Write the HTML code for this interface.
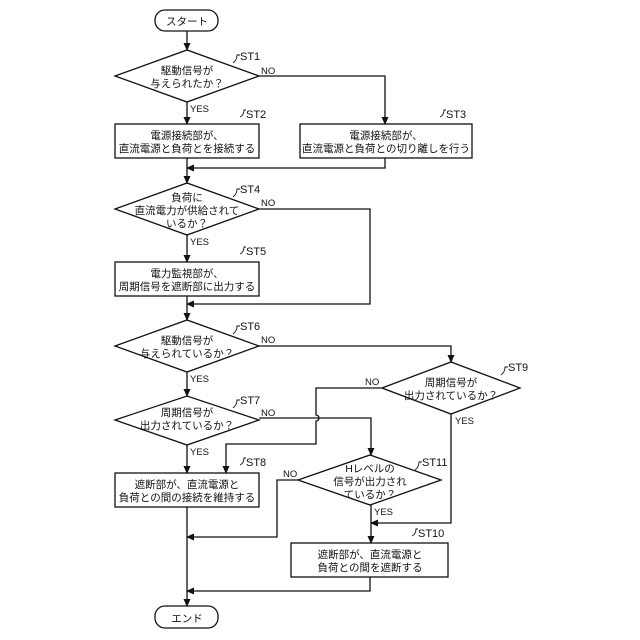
<!DOCTYPE html>
<html><head><meta charset="utf-8"><style>body{margin:0;background:#fff}svg{display:block}text{font-family:"Liberation Sans","Noto Sans CJK JP",sans-serif;fill:#111}</style></head><body>
<svg width="640" height="640" viewBox="0 0 640 640" xmlns="http://www.w3.org/2000/svg">
<defs><marker id="a" markerWidth="8" markerHeight="8" refX="7" refY="4" orient="auto" markerUnits="userSpaceOnUse"><path d="M0,0.5 L8,4 L0,7.5z" fill="#111"/></marker></defs>
<g fill="none" stroke="#111" stroke-width="1.3">
<rect x="155" y="10" width="63" height="21" rx="10"/>
<rect x="155" y="606" width="63" height="22" rx="10"/>
<polygon points="115,76 187,50 259,76 187,102"/>
<polygon points="115,209 187,183 259,209 187,235"/>
<polygon points="115,346 187,320 259,346 187,372"/>
<polygon points="115,420 187,396 259,420 187,445"/>
<polygon points="382,388 451,362 520,388 451,414"/>
<polygon points="298,480 370,455 441,480 370,505"/>
<rect x="115" y="124" width="144" height="34"/>
<rect x="300" y="124" width="172" height="34"/>
<rect x="115" y="262" width="144" height="34"/>
<rect x="115" y="473" width="144" height="34"/>
<rect x="291" y="543" width="157" height="34"/>
<!-- main vertical -->
<path d="M187,31V50" marker-end="url(#a)"/>
<path d="M187,102V124" marker-end="url(#a)"/>
<path d="M187,158V183" marker-end="url(#a)"/>
<path d="M187,235V262" marker-end="url(#a)"/>
<path d="M187,296V320" marker-end="url(#a)"/>
<path d="M187,372V396" marker-end="url(#a)"/>
<path d="M187,445V473" marker-end="url(#a)"/>
<path d="M187,507V606" marker-end="url(#a)"/>
<path d="M259,76H385V124" marker-end="url(#a)"/>
<path d="M385,158V168H187" marker-end="url(#a)"/>
<path d="M259,209H370V304H187" marker-end="url(#a)"/>
<path d="M259,346H451V362" marker-end="url(#a)"/>
<path d="M382,388H316V415 a3,3 0 0 1 0,6 V444H226V473" marker-end="url(#a)"/>
<path d="M259,418H371V455" marker-end="url(#a)"/>
<path d="M451,414V523H371" marker-end="url(#a)"/>
<path d="M371,505V543" marker-end="url(#a)"/>
<path d="M298,480H277V537H187" marker-end="url(#a)"/>
<path d="M370,577V591H187" marker-end="url(#a)"/>
<g stroke-width="0.9">
<path d="M233,63q4,-3 4,-8h3"/><path d="M240,117q4,-2 4,-7h2"/><path d="M440,117q4,-2 4,-7h2"/>
<path d="M233,197q4,-3 4,-8h3"/><path d="M240,254q4,-2 4,-7h2"/><path d="M233,334q4,-3 4,-8h3"/>
<path d="M233,408q4,-3 4,-8h3"/><path d="M240,465q4,-2 4,-7h2"/><path d="M501,375q4,-3 4,-8h3"/>
<path d="M415,470q4,-3 4,-8h3"/><path d="M412,536q4,-2 4,-7h2"/>
</g>
</g>
<g font-size="10.5" text-anchor="middle">
<text x="187" y="25">スタート</text>
<text x="187" y="622">エンド</text>
<text x="187" y="74">駆動信号が</text><text x="187" y="87">与えられたか？</text>
<text x="187" y="139">電源接続部が、</text><text x="187" y="152">直流電源と負荷とを接続する</text>
<text x="386" y="139">電源接続部が、</text><text x="386" y="152">直流電源と負荷との切り離しを行う</text>
<text x="187" y="201">負荷に</text><text x="187" y="214">直流電力が供給されて</text><text x="187" y="227">いるか？</text>
<text x="187" y="277">電力監視部が、</text><text x="187" y="290">周期信号を遮断部に出力する</text>
<text x="187" y="344">駆動信号が</text><text x="187" y="357">与えられているか？</text>
<text x="187" y="416">周期信号が</text><text x="187" y="429">出力されているか？</text>
<text x="451" y="386">周期信号が</text><text x="451" y="399">出力されているか？</text>
<text x="187" y="488">遮断部が、直流電源と</text><text x="187" y="501">負荷との間の接続を維持する</text>
<text x="370" y="472">Hレベルの</text><text x="370" y="485">信号が出力され</text><text x="370" y="498">ているか？</text>
<text x="370" y="558">遮断部が、直流電源と</text><text x="370" y="571">負荷との間を遮断する</text>
</g>
<g font-size="11">
<text x="240" y="60">ST1</text><text x="246" y="118">ST2</text><text x="446" y="118">ST3</text>
<text x="240" y="193">ST4</text><text x="246" y="255">ST5</text><text x="240" y="330">ST6</text>
<text x="240" y="404">ST7</text><text x="246" y="466">ST8</text><text x="508" y="371">ST9</text>
<text x="422" y="466">ST11</text><text x="418" y="537">ST10</text>
</g>
<g font-size="9.5">
<text x="261" y="74">NO</text><text x="190" y="112">YES</text>
<text x="261" y="206">NO</text><text x="190" y="245">YES</text>
<text x="261" y="343">NO</text><text x="190" y="382">YES</text>
<text x="261" y="416">NO</text><text x="190" y="455">YES</text>
<text x="365" y="385">NO</text><text x="455" y="424">YES</text>
<text x="283" y="477">NO</text><text x="374" y="515">YES</text>
</g>
</svg>
</body></html>
